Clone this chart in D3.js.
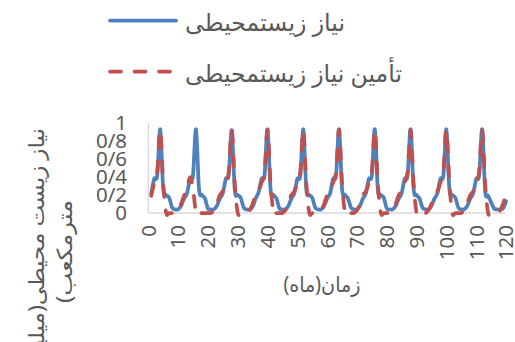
<!DOCTYPE html>
<html>
<head>
<meta charset="utf-8">
<script src="https://cdn.jsdelivr.net/npm/d3@7"></script>
<style>
  body { margin: 0; background: #fff; }
  svg text { fill: #595959; font-family: 'Noto Sans', 'DejaVu Sans', sans-serif; }
</style>
</head>
<body>
<div id="chart"></div>
<script>
// monthly environmental demand (blue) and supplied demand (red), months 1..120
const demand = [
  0.22, 0.38, 0.42, 0.93, 0.27, 0.20, 0.17, 0.06, 0.04, 0.04, 0.08, 0.16,
  0.22, 0.38, 0.42, 0.93, 0.27, 0.20, 0.16, 0.05, 0.04, 0.04, 0.08, 0.16,
  0.22, 0.38, 0.43, 0.92, 0.26, 0.20, 0.17, 0.06, 0.04, 0.04, 0.07, 0.16,
  0.23, 0.38, 0.42, 0.93, 0.27, 0.20, 0.16, 0.05, 0.04, 0.04, 0.08, 0.16,
  0.22, 0.38, 0.42, 0.93, 0.27, 0.20, 0.17, 0.06, 0.04, 0.04, 0.08, 0.16,
  0.22, 0.38, 0.42, 0.93, 0.27, 0.20, 0.16, 0.06, 0.04, 0.04, 0.08, 0.16,
  0.22, 0.38, 0.42, 0.93, 0.26, 0.20, 0.17, 0.05, 0.04, 0.04, 0.08, 0.16,
  0.22, 0.38, 0.42, 0.93, 0.27, 0.20, 0.16, 0.06, 0.04, 0.04, 0.08, 0.16,
  0.22, 0.38, 0.42, 0.93, 0.27, 0.20, 0.17, 0.06, 0.04, 0.04, 0.08, 0.16,
  0.22, 0.38, 0.42, 0.93, 0.25, 0.19, 0.12, 0.05, 0.04, 0.04, 0.05, 0.13
];
const supply = [
  0.19, 0.34, 0.46, 0.92, 0.33, 0, 0, 0, 0, 0.02, 0.10, 0.19,
  0.27, 0.40, 0.27, 0, 0, 0, 0, 0, 0, 0.03, 0.10, 0.20,
  0.24, 0.34, 0.46, 0.92, 0.33, 0, 0, 0, 0, 0.03, 0.10, 0.20,
  0.24, 0.34, 0.45, 0.92, 0.34, 0, 0, 0, 0, 0.03, 0.10, 0.20,
  0.24, 0.34, 0.46, 0.92, 0.33, 0, 0, 0, 0, 0.03, 0.10, 0.20,
  0.24, 0.34, 0.46, 0.92, 0.33, 0, 0, 0, 0, 0.03, 0.10, 0.20,
  0.24, 0.34, 0.46, 0.92, 0.33, 0, 0, 0, 0, 0.03, 0.10, 0.20,
  0.24, 0.34, 0.46, 0.92, 0.33, 0, 0, 0, 0, 0.03, 0.10, 0.20,
  0.24, 0.34, 0.46, 0.92, 0.33, 0, 0, 0, 0, 0.03, 0.10, 0.20,
  0.24, 0.34, 0.46, 0.92, 0.33, 0, 0, 0, 0, 0.03, 0.10, 0.21
];
const xTicks = [0, 10, 20, 30, 40, 50, 60, 70, 80, 90, 100, 110, 120];
const yTicks = [0, 0.2, 0.4, 0.6, 0.8, 1];
const yTickLabels = ['0', '0/2', '0/4', '0/6', '0/8', '1'];
const seriesNames = ['نیاز زیستمحیطی', 'تأمین نیاز زیستمحیطی'];
const xTitle = 'زمان(ماه)';
const yTitle = ['نیاز زیست محیطی(میلیون', 'مترمکعب)'];

const width = 515, height = 342;
const blue = '#4f81bd', red = '#c0504d';

const svg = d3.select('#chart').append('svg')
  .attr('width', width)
  .attr('height', height);

const x = d3.scaleLinear().domain([0, 120]).range([148.3, 506]);
const y = d3.scaleLinear().domain([0, 1]).range([213, 123]);

// axis lines
svg.append('line')
  .attr('x1', x(0)).attr('x2', x(0))
  .attr('y1', y(1)).attr('y2', y(0))
  .attr('stroke', '#d9d9d9').attr('stroke-width', 1.3);
svg.append('line')
  .attr('x1', x(0)).attr('x2', x(120))
  .attr('y1', y(0)).attr('y2', y(0))
  .attr('stroke', '#d9d9d9').attr('stroke-width', 1.3);

// y tick labels
svg.append('g')
  .selectAll('text')
  .data(yTicks)
  .enter()
  .append('text')
  .attr('x', 127)
  .attr('y', d => y(d))
  .attr('dy', '0.36em')
  .attr('text-anchor', 'end')
  .attr('font-size', 20.5)
  .text((d, i) => yTickLabels[i]);

// x tick labels, rotated
svg.append('g')
  .selectAll('text')
  .data(xTicks)
  .enter()
  .append('text')
  .attr('transform', d => `translate(${x(d)}, 225) rotate(-90)`)
  .attr('dy', '0.36em')
  .attr('text-anchor', 'end')
  .attr('font-size', 20.5)
  .text(d => d);

// axis titles
svg.append('text')
  .attr('x', 322)
  .attr('y', 292)
  .attr('text-anchor', 'middle')
  .attr('direction', 'rtl')
  .attr('font-size', 21)
  .attr('textLength', 77)
  .attr('lengthAdjust', 'spacingAndGlyphs')
  .text(xTitle);

const yTitleLengths = [247, 103];
const yTitleG = svg.append('g')
  .attr('transform', 'translate(37, 251.5) rotate(-90)');
yTitle.forEach((t, i) => {
  yTitleG.append('text')
    .attr('x', 0)
    .attr('y', i * 28)
    .attr('dy', '0.35em')
    .attr('text-anchor', 'middle')
    .attr('direction', 'rtl')
    .attr('font-size', 21)
    .attr('textLength', yTitleLengths[i])
    .attr('lengthAdjust', 'spacingAndGlyphs')
    .text(t);
});

// series lines
const line = d3.line()
  .x((d, i) => x(i + 1))
  .y(d => y(d))
  .curve(d3.curveCatmullRom.alpha(0));

svg.append('path')
  .datum(demand)
  .attr('d', line)
  .attr('fill', 'none')
  .attr('stroke', blue)
  .attr('stroke-width', 3.75)
  .attr('stroke-linejoin', 'round')
  .attr('stroke-linecap', 'round');

svg.append('path')
  .datum(supply)
  .attr('d', line)
  .attr('fill', 'none')
  .attr('stroke', red)
  .attr('stroke-width', 3.75)
  .attr('stroke-dasharray', '11,13.5')
  .attr('stroke-linecap', 'round');

// legend
const legendRows = [
  { name: seriesNames[0], color: blue, dash: null, y: 20.5, len: 160 },
  { name: seriesNames[1], color: red, dash: '11,13.5', y: 71.5, len: 217 }
];
const legend = svg.append('g');
legendRows.forEach(r => {
  legend.append('line')
    .attr('x1', 110).attr('x2', 176)
    .attr('y1', r.y).attr('y2', r.y)
    .attr('stroke', r.color)
    .attr('stroke-width', 3.75)
    .attr('stroke-linecap', 'round')
    .attr('stroke-dasharray', r.dash);
  legend.append('text')
    .attr('x', 185)
    .attr('y', r.y + 10)
    .attr('text-anchor', 'end')
    .attr('direction', 'rtl')
    .attr('font-size', 24)
    .attr('textLength', r.len)
    .attr('lengthAdjust', 'spacingAndGlyphs')
    .text(r.name);
});
</script>
</body>
</html>
